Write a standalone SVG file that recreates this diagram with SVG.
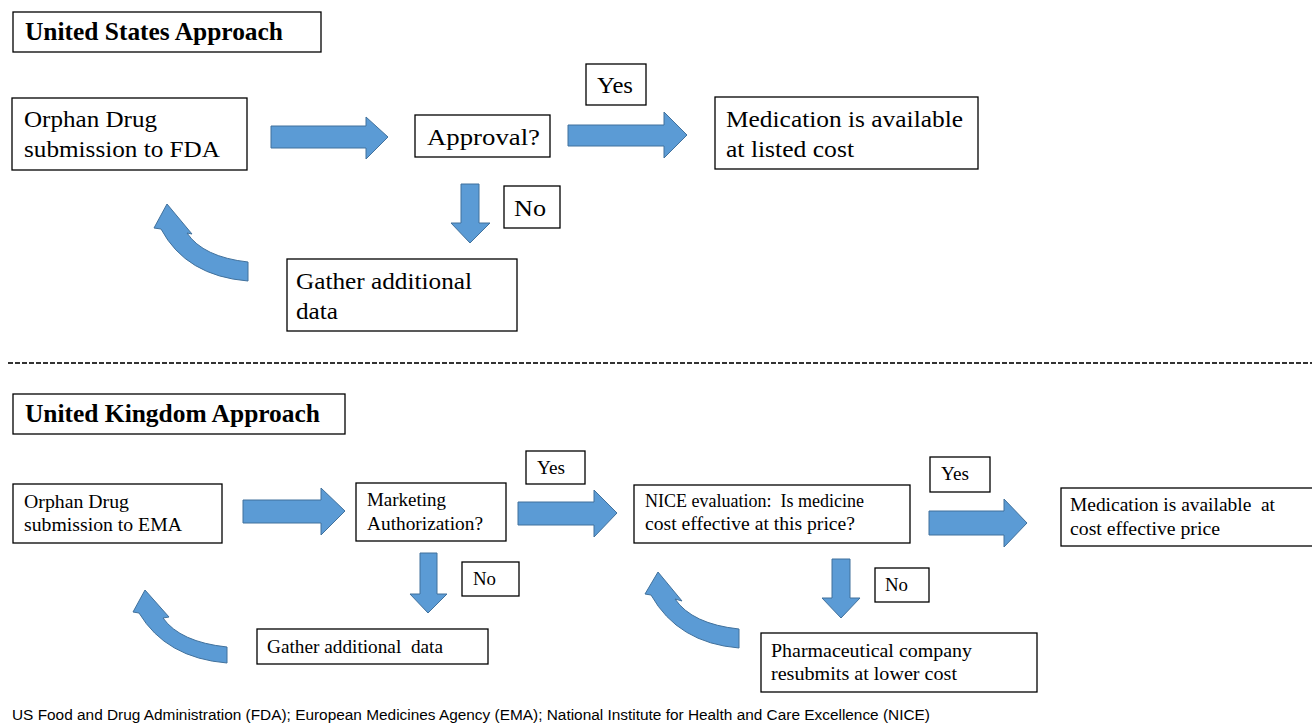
<svg xmlns="http://www.w3.org/2000/svg" width="1312" height="724" viewBox="0 0 1312 724">
<style>
.box{fill:#fff;stroke:#000;stroke-width:1.3}
.arr{fill:#5B9BD5;stroke:#41719C;stroke-width:1}
.t{font-family:"Liberation Serif","Times New Roman",serif;fill:#000}
.big{font-size:24px}
.sm{font-size:19px}
.title{font-size:25px;font-weight:bold}
.foot{font-family:"Liberation Sans",Arial,sans-serif;font-size:14px;fill:#000}
</style>
<rect width="1312" height="724" fill="#fff"/>
<g id="us-title"><rect class="box" x="13" y="12" width="308" height="40"/><text class="t title" x="25" y="40" textLength="258" lengthAdjust="spacingAndGlyphs">United States Approach</text></g>
<g id="us-submit"><rect class="box" x="12" y="98" width="235" height="72"/><text class="t big" x="24" y="127" textLength="133" lengthAdjust="spacingAndGlyphs">Orphan Drug</text><text class="t big" x="24" y="157" textLength="196" lengthAdjust="spacingAndGlyphs">submission to FDA</text></g>
<g id="us-approval"><rect class="box" x="415" y="115" width="135" height="42"/><text class="t big" x="427" y="145" textLength="113" lengthAdjust="spacingAndGlyphs">Approval?</text></g>
<g id="us-yes"><rect class="box" x="586" y="64" width="60" height="41"/><text class="t big" x="597" y="93" textLength="36" lengthAdjust="spacingAndGlyphs">Yes</text></g>
<g id="us-available"><rect class="box" x="715" y="97" width="263" height="72"/><text class="t big" x="726" y="127" textLength="237" lengthAdjust="spacingAndGlyphs">Medication is available</text><text class="t big" x="726" y="157" textLength="128" lengthAdjust="spacingAndGlyphs">at listed cost</text></g>
<g id="us-no"><rect class="box" x="504" y="186" width="56" height="42"/><text class="t big" x="514" y="216" textLength="32" lengthAdjust="spacingAndGlyphs">No</text></g>
<g id="us-gather"><rect class="box" x="287" y="259" width="230" height="72"/><text class="t big" x="296" y="289" textLength="176" lengthAdjust="spacingAndGlyphs">Gather additional</text><text class="t big" x="296" y="319" textLength="42" lengthAdjust="spacingAndGlyphs">data</text></g>
<line x1="8" y1="363" x2="1312" y2="363" stroke="#333" stroke-width="2" stroke-dasharray="5 2"/>
<g id="uk-title"><rect class="box" x="13" y="394" width="332" height="40"/><text class="t title" x="25" y="422" textLength="295" lengthAdjust="spacingAndGlyphs">United Kingdom Approach</text></g>
<g id="uk-submit"><rect class="box" x="13" y="484" width="209" height="59"/><text class="t sm" x="24" y="508" textLength="105" lengthAdjust="spacingAndGlyphs">Orphan Drug</text><text class="t sm" x="24" y="531" textLength="158" lengthAdjust="spacingAndGlyphs">submission to EMA</text></g>
<g id="uk-ma"><rect class="box" x="356" y="483" width="150" height="58"/><text class="t sm" x="367" y="506" textLength="79" lengthAdjust="spacingAndGlyphs">Marketing</text><text class="t sm" x="367" y="530" textLength="116" lengthAdjust="spacingAndGlyphs">Authorization?</text></g>
<g id="uk-yes1"><rect class="box" x="526" y="451" width="59" height="33"/><text class="t sm" x="537" y="474" textLength="28" lengthAdjust="spacingAndGlyphs">Yes</text></g>
<g id="uk-nice"><rect class="box" x="634" y="485" width="276" height="58"/><text class="t sm" x="645" y="507" xml:space="preserve" textLength="219" lengthAdjust="spacingAndGlyphs">NICE evaluation:  Is medicine</text><text class="t sm" x="645" y="530" textLength="210" lengthAdjust="spacingAndGlyphs">cost effective at this price?</text></g>
<g id="uk-yes2"><rect class="box" x="930" y="457" width="60" height="35"/><text class="t sm" x="941" y="480" textLength="28" lengthAdjust="spacingAndGlyphs">Yes</text></g>
<g id="uk-available"><rect class="box" x="1061" y="488" width="255" height="58"/><text class="t sm" x="1070" y="511" xml:space="preserve" textLength="205" lengthAdjust="spacingAndGlyphs">Medication is available  at</text><text class="t sm" x="1070" y="535" textLength="150" lengthAdjust="spacingAndGlyphs">cost effective price</text></g>
<g id="uk-no1"><rect class="box" x="462" y="562" width="57" height="34"/><text class="t sm" x="473" y="585" textLength="23" lengthAdjust="spacingAndGlyphs">No</text></g>
<g id="uk-gather"><rect class="box" x="257" y="629" width="231" height="35"/><text class="t sm" x="267" y="653" xml:space="preserve" textLength="176" lengthAdjust="spacingAndGlyphs">Gather additional  data</text></g>
<g id="uk-no2"><rect class="box" x="875" y="568" width="54" height="34"/><text class="t sm" x="885" y="591" textLength="23" lengthAdjust="spacingAndGlyphs">No</text></g>
<g id="uk-resubmit"><rect class="box" x="761" y="633" width="276" height="59"/><text class="t sm" x="771" y="657" textLength="201" lengthAdjust="spacingAndGlyphs">Pharmaceutical company</text><text class="t sm" x="771" y="680" textLength="186" lengthAdjust="spacingAndGlyphs">resubmits at lower cost</text></g>
<g id="connectors">
<path class="arr" d="M271,126 H366 V117 L388,137 L366,159 V148 H271 Z"/>
<path class="arr" d="M568,125 H664 V112 L687,135 L664,158 V146 H568 Z"/>
<path class="arr" d="M461,184 H479 V223 H490 L470,243 L451,223 H461 Z"/>
<path class="arr" d="M167,204 L192,234 L187,233 Q203,257 248,262 V281 Q186,276 161,229 L154,228 Z"/>
<path class="arr" d="M243,500 H321 V488 L345,511 L321,535 V523 H243 Z"/>
<path class="arr" d="M518,502 H594 V490 L617,513 L594,537 V525 H518 Z"/>
<path class="arr" d="M929,511 H1004 V499 L1027,523 L1004,547 V535 H929 Z"/>
<path class="arr" d="M420,553 H437 V594 H447 L428,613 L410,594 H420 Z"/>
<path class="arr" d="M832,559 H850 V598 H860 L841,618 L822,598 H832 Z"/>
<path class="arr" d="M145,590 L169,617 L163,618 Q180,642 227,647 V663 Q166,658 139,613 L133,612 Z"/>
<path class="arr" d="M658,572 L682,601 L675,599 Q692,624 739,629 V648 Q678,643 651,595 L645,594 Z"/>
</g>
<text class="foot" x="12" y="720" textLength="918" lengthAdjust="spacingAndGlyphs">US Food and Drug Administration (FDA); European Medicines Agency (EMA); National Institute for Health and Care Excellence (NICE)</text>
</svg>
